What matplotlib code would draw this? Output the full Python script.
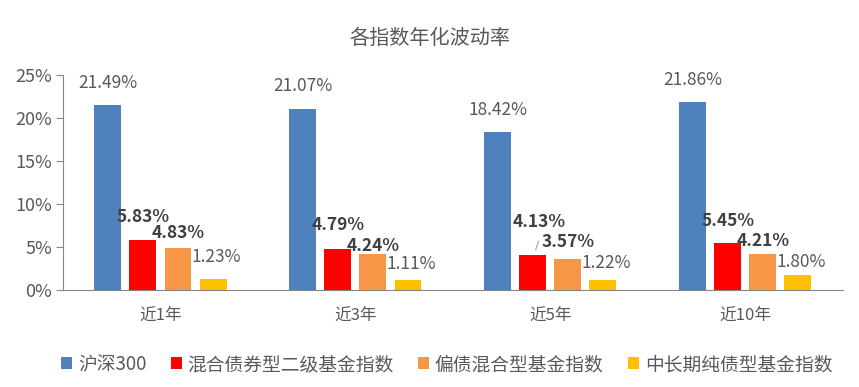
import matplotlib.pyplot as plt
import numpy as np

plt.rcParams['font.family'] = ['Noto Sans CJK SC', 'DejaVu Sans']

categories = ['近1年', '近3年', '近5年', '近10年']
series_names = ['沪深300', '混合债券型二级基金指数', '偏债混合型基金指数', '中长期纯债型基金指数']
hs300 = [21.49, 21.07, 18.42, 21.86]
mixed_bond2 = [5.83, 4.79, 4.13, 5.45]
bond_mixed = [4.83, 4.24, 3.57, 4.21]
pure_bond = [1.23, 1.11, 1.22, 1.80]
yticks = [0, 5, 10, 15, 20, 25]

colors = ['#4F81BD', '#FF0000', '#F79646', '#FFC000']
bold = [False, True, True, False]
# label offsets above each bar top, in pixels (series x category)
lab_off = [[22, 23, 22, 22],
           [23, 24, 33, 22],
           [15, 8, 17, 13],
           [22, 16, 17, 13]]
lab_dx = [0, 0, 0, 3]

def main():
    fig = plt.figure(figsize=(8.59, 3.87), dpi=100)
    ax = fig.add_axes([0.0733, 0.2506, 0.9077, 0.5554])
    x = np.arange(len(categories))
    width = 0.138
    step = 0.18
    data = [hs300, mixed_bond2, bond_mixed, pure_bond]
    for i, vals in enumerate(data):
        pos = x + (i - 1.5) * step
        ax.bar(pos, vals, width, color=colors[i], label=series_names[i])
        for j, (px, v) in enumerate(zip(pos, vals)):
            dx = lab_dx[i]
            if i == 1 and j == 2:
                dx = 6
            ax.annotate('%.2f%%' % v, xy=(px, v), xytext=(dx, lab_off[i][j]),
                        textcoords='offset pixels', ha='center', va='center',
                        fontsize=12.5, color='#404040' if bold[i] else '#595959',
                        fontweight='bold' if bold[i] else 'normal')
        if i == 1:
            # leader line for the 近5年 label
            px, v = pos[2], vals[2]
            ax.annotate('', xy=(px + 0.01, v + 0.2), xytext=(px + 0.035, v + 1.9),
                        arrowprops=dict(arrowstyle='-', color='#a6a6a6', lw=0.8))
    ax.set_xlim(-0.5, len(categories) - 0.5)
    ax.set_ylim(0, 25)
    ax.set_yticks(yticks)
    ax.set_yticklabels(['%d%%' % t for t in yticks])
    ax.set_xticks(x)
    ax.set_xticklabels(categories)
    for s in ['top', 'right']:
        ax.spines[s].set_visible(False)
    ax.spines['left'].set_color('#868686')
    ax.spines['bottom'].set_color('#868686')
    ax.tick_params(axis='y', length=5, color='#868686', labelsize=13, labelcolor='#595959', pad=3)
    ax.tick_params(axis='x', length=0, labelsize=12, labelcolor='#595959', pad=12)
    fig.text(0.5, 0.9, '各指数年化波动率', ha='center', va='center', fontsize=14.5, color='#595959')
    fig.legend(loc='center', bbox_to_anchor=(0.52, 0.058), ncol=4, frameon=False,
               fontsize=13.5, handlelength=0.6, handleheight=0.6, handletextpad=0.3,
               columnspacing=1.3, labelcolor='#595959')
    fig.savefig('out.png', dpi=100)

if __name__ == "__main__": main()
